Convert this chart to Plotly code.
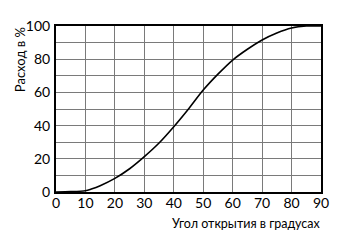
import plotly.graph_objects as go

angle = [0, 5, 10, 12, 15, 20, 25, 30, 35, 40, 45, 50, 55, 60, 65, 70, 75, 80, 85, 90]
flow = [0, 0.2, 0.8, 1.8, 3.8, 8.2, 14, 21.3, 29.5, 39.3, 50, 61.4, 71, 79.5, 86, 91.6, 95.8, 98.8, 100, 100]

x_ticks = [0, 10, 20, 30, 40, 50, 60, 70, 80, 90]
y_ticks = [0, 20, 40, 60, 80, 100]

font = "Lato"

fig = go.Figure()
fig.add_trace(go.Scatter(x=angle, y=flow, mode="lines",
                         line=dict(color="black", width=1.6, shape="spline", smoothing=0.8),
                         hoverinfo="skip", showlegend=False))

fig.update_layout(
    width=341, height=247,
    margin=dict(l=56, r=20, t=26, b=55),
    paper_bgcolor="white", plot_bgcolor="white",
    font=dict(family=font, size=14, color="black"),
    xaxis=dict(range=[0, 90], tickvals=x_ticks, ticktext=[str(v) for v in x_ticks],
               showgrid=True, gridcolor="#7a7a7a", gridwidth=1,
               showline=True, linecolor="black", linewidth=2, mirror=True,
               ticks="", zeroline=False, fixedrange=True, ticklabelstandoff=-3),
    yaxis=dict(range=[0, 100], tickvals=y_ticks, ticktext=[str(v) for v in y_ticks],
               showgrid=True, gridcolor="#7a7a7a", gridwidth=1,
               minor=dict(dtick=10, showgrid=True, gridcolor="#7a7a7a", gridwidth=1),
               showline=True, linecolor="black", linewidth=2, mirror=True,
               ticks="", zeroline=False, fixedrange=True, ticklabelstandoff=1),
    annotations=[
        dict(text="Расход в %", xref="paper", yref="paper", x=-0.136, y=0.8,
             xanchor="center", yanchor="middle", textangle=-90, showarrow=False,
             font=dict(family=font, size=13)),
        dict(text="Угол открытия в градусах", xref="paper", yref="paper", x=1.003, y=-0.13,
             xanchor="right", yanchor="top", showarrow=False,
             font=dict(family=font, size=12.5)),
    ],
)
fig.write_html("out.html")
